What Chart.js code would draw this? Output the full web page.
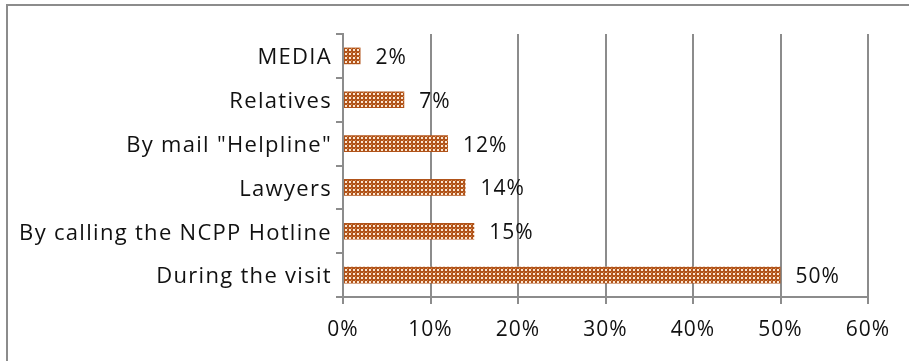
<!DOCTYPE html>
<html>
<head>
<meta charset="utf-8">
<script src="https://cdn.jsdelivr.net/npm/chart.js@4/dist/chart.umd.min.js"></script>
<style>
  html, body { margin: 0; padding: 0; background: #fff; overflow: hidden; }
  #frame {
    position: absolute; left: 6px; top: 4px;
    width: 1000px; height: 500px;
    border: 2px solid #8c8c8c;
  }
  #wrap { position: absolute; left: 0; top: 0; width: 909px; height: 361px; }
</style>
</head>
<body>
<div id="frame"></div>
<div id="wrap"><canvas id="sourceChart" width="909" height="361"></canvas></div>
<script>
const categories = ['MEDIA', 'Relatives', 'By mail "Helpline"', 'Lawyers', 'By calling the NCPP Hotline', 'During the visit'];
const shares = [2, 7, 12, 14, 15, 50];
const axisMax = 60;
const axisStep = 10;

const FONT = '"Open Sans", "Noto Sans", sans-serif';
const FONT_SIZE = 21;
const GRID = '#8c8c8c';
const INK = '#111';

// brown fill with a small grid of light dots
function makePattern() {
    const tile = document.createElement('canvas');
    tile.width = 4;
    tile.height = 4;
    const c = tile.getContext('2d');
    c.fillStyle = '#b0531a';
    c.fillRect(0, 0, 4, 4);
    c.fillStyle = '#fbe6d2';
    c.fillRect(1, 1, 2, 2);
    c.fillStyle = '#d98a4c';
    c.fillRect(3, 0, 1, 1);
    return tile.getContext('2d').createPattern(tile, 'repeat');
}

// slightly wider text everywhere, category names drawn a bit wider still
const labelText = {
    id: 'labelText',
    beforeDraw(chart) {
        chart.ctx.letterSpacing = '1px';
    },
    afterDraw(chart) {
        const ctx = chart.ctx;
        const yScale = chart.scales.y;
        ctx.save();
        ctx.letterSpacing = '1.3px';
        ctx.font = '22px ' + FONT;
        ctx.fillStyle = INK;
        ctx.textAlign = 'right';
        ctx.textBaseline = 'middle';
        chart.data.labels.forEach((name, i) => {
            ctx.fillText(name, yScale.left + yScale.width - 11, yScale.getPixelForValue(i) + 2);
        });
        ctx.restore();
    }
};

// value labels to the right of each bar
const valueLabels = {
    id: 'valueLabels',
    afterDatasetsDraw(chart) {
        const ctx = chart.ctx;
        const meta = chart.getDatasetMeta(0);
        const xScale = chart.scales.x;
        ctx.save();
        ctx.letterSpacing = '1px';
        ctx.font = FONT_SIZE + 'px ' + FONT;
        ctx.fillStyle = INK;
        ctx.textAlign = 'left';
        ctx.textBaseline = 'middle';
        meta.data.forEach((bar, i) => {
            const v = chart.data.datasets[0].data[i];
            ctx.fillText(v + '%', xScale.getPixelForValue(v) + 15, bar.y + 2);
        });
        ctx.restore();
    }
};

new Chart(document.getElementById('sourceChart'), {
    type: 'bar',
    data: {
        labels: categories,
        datasets: [{
            data: shares,
            backgroundColor: makePattern(),
            borderWidth: 0,
            barPercentage: 0.38,
            categoryPercentage: 1.0
        }]
    },
    plugins: [labelText, valueLabels],
    options: {
        indexAxis: 'y',
        responsive: false,
        animation: false,
        layout: { padding: { left: 0, right: 41, top: 34, bottom: 0 } },
        plugins: {
            legend: { display: false },
            tooltip: { enabled: false }
        },
        scales: {
            x: {
                min: 0,
                max: axisMax,
                afterFit(scale) { scale.height = 64; },
                ticks: {
                    stepSize: axisStep,
                    padding: 13,
                    color: INK,
                    font: { family: FONT, size: FONT_SIZE },
                    callback: v => v + '%'
                },
                grid: { color: GRID, lineWidth: 2, tickLength: 7 },
                border: { color: GRID, width: 2 }
            },
            y: {
                afterFit(scale) { scale.width = 343; },
                ticks: { display: false },
                grid: { color: GRID, lineWidth: 2, tickLength: 7, drawOnChartArea: false, offset: true },
                border: { color: GRID, width: 2 }
            }
        }
    }
});
</script>
</body>
</html>
